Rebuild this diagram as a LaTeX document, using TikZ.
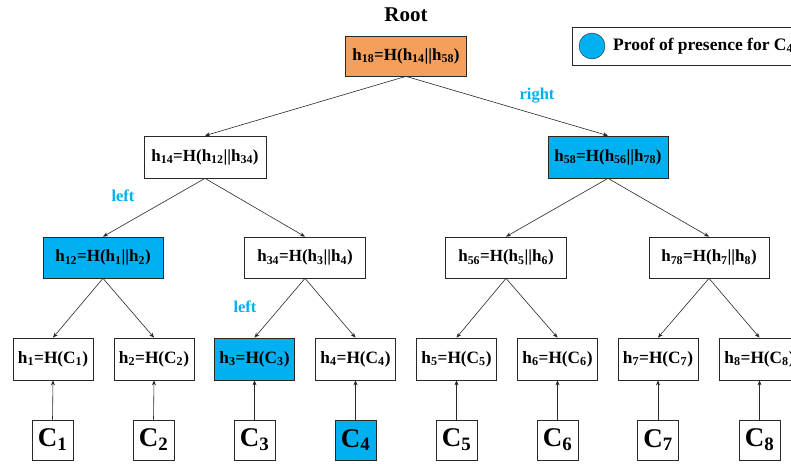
\documentclass[tikz,border=0pt]{standalone}
\usepackage{fontspec}
\setmainfont{Liberation Serif}
\usetikzlibrary{arrows.meta}
\definecolor{proofblue}{RGB}{0,176,240}
\definecolor{rootorange}{RGB}{244,160,92}
\definecolor{edgegray}{RGB}{40,40,40}
\tikzset{
  hashbox/.style={draw=edgegray, line width=0.7pt, fill=white, minimum height=42pt, inner sep=0pt, font=\bfseries\fontsize{17}{19}\selectfont},
  leafbox/.style={hashbox, minimum width=80pt, font=\bfseries\fontsize{17.3}{19}\selectfont},
  chunkbox/.style={draw=edgegray, line width=0.7pt, fill=white, minimum width=41pt, minimum height=40pt, inner sep=0pt, font=\bfseries\fontsize{27}{29}\selectfont},
  proof/.style={fill=proofblue},
  link/.style={draw=edgegray, line width=0.6pt, -{Stealth[length=5pt,width=4pt]}},
  dirlabel/.style={text=proofblue, font=\bfseries\fontsize{16.5}{18}\selectfont}
}
\newcommand{\sbs}[1]{\textsubscript{#1}}
\begin{document}
\begin{tikzpicture}[x=1pt,y=-1pt]
\clip (0,0) rectangle (791,463);
\fill[white] (0,0) rectangle (791,463);

% title
\node[font=\bfseries\fontsize{21}{23}\selectfont] (title) at (406,15) {Root};

% legend
\node[draw=edgegray, line width=0.7pt, minimum width=240pt, minimum height=38pt, anchor=north west] (legend) at (572,27) {};
\node[circle, draw=edgegray, fill=proofblue, minimum size=26pt, inner sep=0pt] (legdot) at (592,46) {};
\node[anchor=west, inner sep=0pt, font=\bfseries\fontsize{17.5}{19}\selectfont] (legtext) at (613,46) {Proof of presence for C\sbs{4}};

% root
\node[hashbox, minimum width=121pt, fill=rootorange, minimum height=40pt] (h18) at (406,56) {h\sbs{18}=H(h\sbs{14}||h\sbs{58})};

% level 1
\node[hashbox, minimum width=122pt] (h14) at (205,157) {h\sbs{14}=H(h\sbs{12}||h\sbs{34})};
\node[hashbox, minimum width=120pt, proof] (h58) at (608,157) {h\sbs{58}=H(h\sbs{56}||h\sbs{78})};

% level 2
\node[hashbox, minimum width=120pt, minimum height=41pt, proof] (h12) at (103,257.5) {h\sbs{12}=H(h\sbs{1}||h\sbs{2})};
\node[hashbox, minimum width=121pt, minimum height=41pt] (h34) at (305,257.5) {h\sbs{34}=H(h\sbs{3}||h\sbs{4})};
\node[hashbox, minimum width=121pt, minimum height=41pt] (h56) at (506,257.5) {h\sbs{56}=H(h\sbs{5}||h\sbs{6})};
\node[hashbox, minimum width=120pt, minimum height=41pt] (h78) at (709,257.5) {h\sbs{78}=H(h\sbs{7}||h\sbs{8})};

% leaf hashes
\node[leafbox] (h1) at (53,359) {h\sbs{1}=H(C\sbs{1})};
\node[leafbox] (h2) at (154,359) {h\sbs{2}=H(C\sbs{2})};
\node[leafbox, proof] (h3) at (254.5,359) {h\sbs{3}=H(C\sbs{3})};
\node[leafbox] (h4) at (355.5,359) {h\sbs{4}=H(C\sbs{4})};
\node[leafbox] (h5) at (456.5,359) {h\sbs{5}=H(C\sbs{5})};
\node[leafbox] (h6) at (557.5,359) {h\sbs{6}=H(C\sbs{6})};
\node[leafbox] (h7) at (658,359) {h\sbs{7}=H(C\sbs{7})};
\node[leafbox] (h8) at (759.5,359) {h\sbs{8}=H(C\sbs{8})};

% data chunks
\node[chunkbox] (c1) at (52.5,440) {C\sbs{1}};
\node[chunkbox] (c2) at (153.5,440) {C\sbs{2}};
\node[chunkbox] (c3) at (254.5,440) {C\sbs{3}};
\node[chunkbox, proof] (c4) at (355.5,440) {C\sbs{4}};
\node[chunkbox] (c5) at (456.5,440) {C\sbs{5}};
\node[chunkbox] (c6) at (557.5,440) {C\sbs{6}};
\node[chunkbox] (c7) at (658,440) {C\sbs{7}};
\node[chunkbox] (c8) at (759.5,440) {C\sbs{8}};

% tree edges
\draw[link] (h18.south) -- (h14.north);
\draw[link] (h18.south) -- (h58.north);
\draw[link] (h14.south) -- (h12.north);
\draw[link] (h14.south) -- (h34.north);
\draw[link] (h58.south) -- (h56.north);
\draw[link] (h58.south) -- (h78.north);
\draw[link] (h12.south) -- (h1.north);
\draw[link] (h12.south) -- (h2.north);
\draw[link] (h34.south) -- (h3.north);
\draw[link] (h34.south) -- (h4.north);
\draw[link] (h56.south) -- (h5.north);
\draw[link] (h56.south) -- (h6.north);
\draw[link] (h78.south) -- (h7.north);
\draw[link] (h78.south) -- (h8.north);

\foreach \i in {1,...,8} { \draw[link] (c\i.north) -- (h\i.south); }

% direction labels
\node[dirlabel] (lright) at (537,96) {right};
\node[dirlabel] (lleft1) at (123,196) {left};
\node[dirlabel] (lleft2) at (245,307) {left};
\end{tikzpicture}
\end{document}
